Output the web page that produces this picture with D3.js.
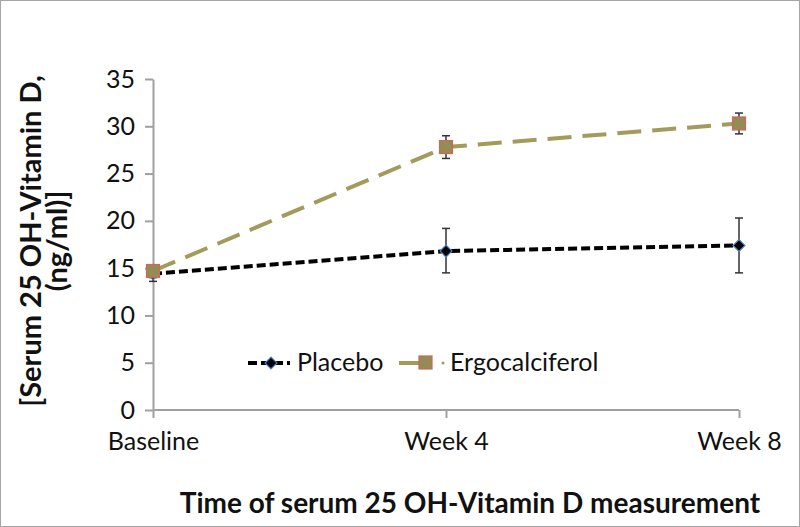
<!DOCTYPE html>
<html><head><meta charset="utf-8">
<script src="https://cdn.jsdelivr.net/npm/d3@7"></script>
<style>body{margin:0;background:#fff}svg{display:block}</style>
</head><body>
<svg id="c" width="800" height="527"></svg>
<script>
const categories = ["Baseline", "Week 4", "Week 8"];
const placebo = [14.4, 16.8, 17.4];
const placeboLow = [13.6, 14.5, 14.5];
const placeboHigh = [15.2, 19.2, 20.3];
const ergo = [14.7, 27.8, 30.3];
const ergoLow = [14.0, 26.6, 29.2];
const ergoHigh = [15.3, 29.0, 31.4];
const yTicks = [0, 5, 10, 15, 20, 25, 30, 35];

const svg = d3.select("#c");
const font = "Lato, 'Open Sans', sans-serif";
svg.append("rect").attr("x",0.5).attr("y",0.5).attr("width",799).attr("height",526)
  .attr("fill","#fff").attr("stroke","#a6a6a6");

const x = d3.scalePoint().domain(categories).range([153, 739]);
const y = d3.scaleLinear().domain([0,35]).range([410, 79]);

const yAxis = svg.append("g").attr("transform","translate(153,0)")
  .call(d3.axisLeft(y).tickValues(yTicks).tickSize(8).tickSizeOuter(0).tickPadding(10));
const xAxis = svg.append("g").attr("transform","translate(0,410)")
  .call(d3.axisBottom(x).tickSize(8).tickSizeOuter(0).tickPadding(14));
[yAxis,xAxis].forEach(a=>{
  a.selectAll("path,line").attr("stroke","#a0a0a0").attr("stroke-width",2);
  a.selectAll("text").attr("font-family",font).attr("font-size",25).attr("fill","#111");
});
xAxis.select(".domain").attr("d","M153,0H739");

function errbars(low, high, color){
  const g = svg.append("g").attr("stroke",color).attr("stroke-width",1.5);
  categories.forEach((c,i)=>{
    const cx = x(c);
    g.append("line").attr("x1",cx).attr("x2",cx).attr("y1",y(low[i])).attr("y2",y(high[i]));
    g.append("line").attr("x1",cx-4).attr("x2",cx+4).attr("y1",y(low[i])).attr("y2",y(low[i]));
    g.append("line").attr("x1",cx-4).attr("x2",cx+4).attr("y1",y(high[i])).attr("y2",y(high[i]));
  });
}
const line = d3.line().x((d,i)=>x(categories[i])).y(d=>y(d));

svg.append("path").datum(ergo).attr("d",line).attr("fill","none")
  .attr("stroke","#A39B5C").attr("stroke-width",4).attr("stroke-dasharray","24,11");
svg.append("path").datum(placebo).attr("d",line).attr("fill","none")
  .attr("stroke","#000").attr("stroke-width",4).attr("stroke-dasharray","9,4");

errbars(placeboLow, placeboHigh, "#333");
errbars(ergoLow, ergoHigh, "#333");

const diamond = d3.symbol().type(d3.symbolSquare).size(70);
svg.selectAll(".pm").data(placebo).enter().append("path")
  .attr("d",diamond).attr("transform",(d,i)=>`translate(${x(categories[i])},${y(d)}) rotate(45)`)
  .attr("fill","#000").attr("stroke","#4F81BD").attr("stroke-width",1.2);
svg.selectAll(".em").data(ergo).enter().append("rect")
  .attr("x",(d,i)=>x(categories[i])-6.5).attr("y",d=>y(d)-6.5).attr("width",13).attr("height",13)
  .attr("fill","#958B55").attr("stroke","#C8695A").attr("stroke-width",1.2);

// legend
const lg = svg.append("g");
lg.append("line").attr("x1",248).attr("x2",290).attr("y1",363).attr("y2",363)
  .attr("stroke","#000").attr("stroke-width",4).attr("stroke-dasharray","9,4");
lg.append("path").attr("d",diamond).attr("transform","translate(271,363) rotate(45)")
  .attr("fill","#000").attr("stroke","#4F81BD").attr("stroke-width",1.2);
lg.append("text").attr("x",297).attr("y",371).text("Placebo")
  .attr("font-family",font).attr("font-size",25).attr("fill","#111");
lg.append("line").attr("x1",399).attr("x2",420).attr("y1",363).attr("y2",363)
  .attr("stroke","#A39B5C").attr("stroke-width",4);
lg.append("rect").attr("x",419).attr("y",356).attr("width",13).attr("height",13)
  .attr("fill","#958B55").attr("stroke","#C8695A").attr("stroke-width",1.2);
lg.append("circle").attr("cx",443).attr("cy",363).attr("r",1.6).attr("fill","#A39B5C");
lg.append("text").attr("x",450).attr("y",371).text("Ergocalciferol")
  .attr("font-family",font).attr("font-size",25).attr("fill","#111");

// axis titles
const yt = svg.append("text").attr("transform","translate(41,241) rotate(-90)")
  .attr("text-anchor","middle").attr("font-family",font).attr("font-weight","bold")
  .attr("font-size",29).attr("fill","#111");
yt.append("tspan").attr("x",0).attr("dy",0).text("[Serum 25 OH-Vitamin D,");
yt.append("tspan").attr("x",0).attr("dy",26).text("(ng/ml)]");
svg.append("text").attr("x",470).attr("y",513).attr("text-anchor","middle")
  .attr("font-family",font).attr("font-weight","bold").attr("font-size",28).attr("fill","#111")
  .text("Time of serum 25 OH-Vitamin D measurement");
</script>
</body></html>
